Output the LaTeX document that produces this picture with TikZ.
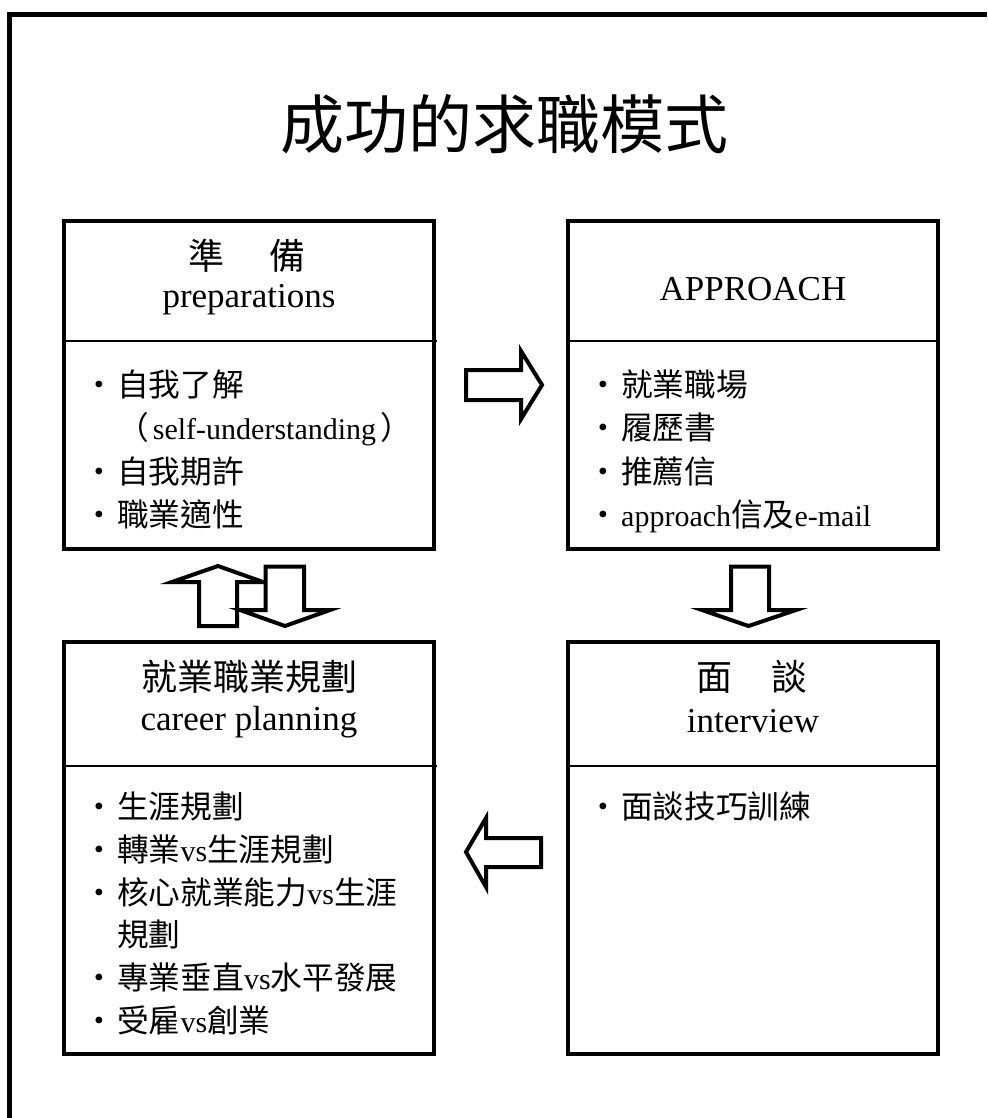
\documentclass[tikz,border=0pt]{standalone}
\usepackage{fontspec}
\setmainfont{Liberation Serif}
\newfontfamily\cjk{Noto Sans CJK TC}
\usetikzlibrary{calc}
\newcommand\bc[1]{{\fontsize{31.7}{43}\selectfont\cjk #1}}
\newcommand\bulit{\makebox[53pt][l]{\hspace{19pt}\bc{・}}}
\newcommand\indt{\makebox[53pt]{}}
\begin{document}
\begin{tikzpicture}[x=1pt,y=-1pt,
  box/.style={draw, line width=4pt, minimum width=370pt, inner sep=0pt, outer sep=0pt},
  divider/.style={line width=2pt},
  hdr/.style={font=\fontsize{35}{40}\selectfont, inner sep=0pt, anchor=base},
  hdrcjk/.style={font=\fontsize{36}{40}\selectfont\cjk, inner sep=0pt, anchor=base},
  body/.style={font=\fontsize{30}{43}\selectfont, inner sep=0pt, anchor=base west},
  blockarrow/.style={draw, line width=4pt, fill=white, line join=miter},
  frame/.style={line width=5.5pt, line join=miter},
  ttl/.style={font=\fontsize{64}{70}\selectfont\cjk, inner sep=0pt, anchor=base}]
\useasboundingbox (0,0) rectangle (987,1118);
% outer frame (left and top edges)
\draw[frame] (9.5,1118) -- (9.5,14.5) -- (987,14.5);
% title
\node[ttl] (title) at (504,149) {成功的求職模式};
% boxes
\node[box, minimum height=328pt] (tl) at (249,385) {};
\node[box, minimum height=328pt] (tr) at (753,385) {};
\node[box, minimum height=412pt] (bl) at (249,848) {};
\node[box, minimum height=412pt] (br) at (753,848) {};
% dividers
\draw[divider] ($(tl.north west)+(0,120)$) -- ($(tl.north east)+(3,120)$);
\draw[divider] ($(tr.north west)+(0,120)$) -- ($(tr.north east)+(0,120)$);
\draw[divider] ($(bl.north west)+(0,124)$) -- ($(bl.north east)+(3,124)$);
\draw[divider] ($(br.north west)+(0,124)$) -- ($(br.north east)+(0,124)$);
% headers
\node[hdrcjk] (tlh1) at (247,269.5) {準\hspace{45pt}備};
\node[hdr] (tlh2) at (249,307.5) {preparations};
\node[hdr] (trh1) at (753,300) {APPROACH};
\node[hdrcjk] (blh1) at (249,690.5) {就業職業規劃};
\node[hdr] (blh2) at (249,730) {career planning};
\node[hdrcjk] (brh1) at (752,690.5) {面\hspace{39pt}談};
\node[hdr] (brh2) at (753,732) {interview};
% body lines
\foreach \yy/\tt [count=\i] in {
  396/{\bulit\bc{自我了解}},
  439.5/{\indt\bc{（}\hspace{4pt}self-understanding\hspace{4pt}\bc{）}},
  483/{\bulit\bc{自我期許}},
  526.5/{\bulit\bc{職業適性}}}
  \node[body] (tlb\i) at (64,\yy) {\tt};
\foreach \yy/\tt [count=\i] in {
  396/{\bulit\bc{就業職場}},
  439.5/{\bulit\bc{履歷書}},
  483/{\bulit\bc{推薦信}},
  526.5/{\bulit approach\bc{信及}e-mail}}
  \node[body] (trb\i) at (568,\yy) {\tt};
\foreach \yy/\tt [count=\i] in {
  818/{\bulit\bc{生涯規劃}},
  861/{\bulit\bc{轉業}vs\bc{生涯規劃}},
  904/{\bulit\bc{核心就業能力}vs\bc{生涯}},
  946/{\indt\bc{規劃}},
  989/{\bulit\bc{專業垂直}vs\bc{水平發展}},
  1032/{\bulit\bc{受雇}vs\bc{創業}}}
  \node[body] (blb\i) at (64,\yy) {\tt};
\node[body] (brb1) at (568,818) {\bulit\bc{面談技巧訓練}};
% block arrows
\draw[blockarrow] (466,370) -- (521,370) -- (521,351) -- (542,385) -- (521,419) -- (521,400) -- (466,400) -- cycle;
\draw[blockarrow] (731,566.5) -- (769,566.5) -- (769,610) -- (796,610) -- (748.5,626) -- (702,610) -- (731,610) -- cycle;
\draw[blockarrow] (541,838) -- (486,838) -- (486,818) -- (466,852) -- (486,887) -- (486,867) -- (541,867) -- cycle;
\draw[blockarrow] (199,626) -- (199,582) -- (172,582) -- (218,566) -- (263,582) -- (237,582) -- (237,626) -- cycle;
\draw[blockarrow] (265.5,566.5) -- (304,566.5) -- (304,610) -- (330,610) -- (285,626) -- (240,610) -- (265.5,610) -- cycle;
\end{tikzpicture}
\end{document}
